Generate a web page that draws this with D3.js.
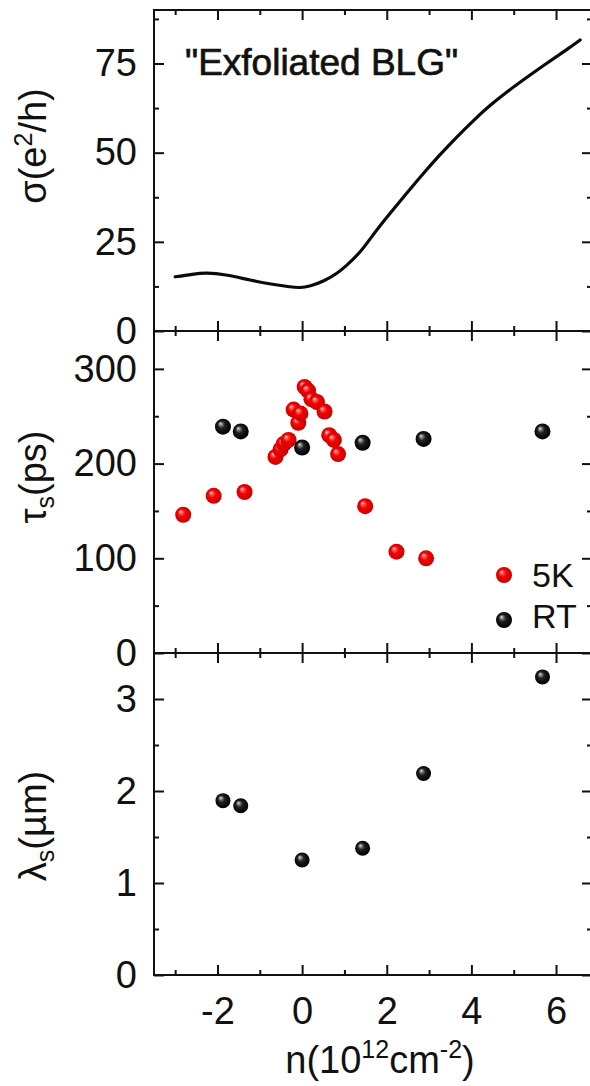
<!DOCTYPE html>
<html>
<head>
<meta charset="utf-8">
<script src="https://cdn.jsdelivr.net/npm/d3@7"></script>
<style>
  html, body { margin: 0; padding: 0; background: #fff; }
  svg { display: block; }
  text { font-family: "Liberation Sans", Arial, sans-serif; fill: #111; }
</style>
</head>
<body>
<svg id="fig" width="590" height="1086"></svg>
<script>
// Conductivity sweep of exfoliated bilayer graphene, sigma in e^2/h
const sigmaN = [-3.0, -2.6, -2.25, -1.8, -1.23, -0.7, -0.3, -0.05, 0.2, 0.5, 0.82, 1.05, 1.37, 1.7, 2.08, 2.47, 2.86, 3.25, 3.65, 4.05, 4.44, 4.84, 5.24, 5.63, 6.02, 6.3, 6.57];
const sigmaVal = [15.2, 15.9, 16.2, 15.7, 14.3, 13.1, 12.4, 12.2, 12.7, 14.0, 16.2, 18.4, 22.2, 27.3, 33.0, 38.6, 44.1, 49.3, 54.3, 59.0, 63.2, 67.0, 70.5, 73.8, 77.0, 79.3, 81.6];

// Spin lifetime at 5 K (ps)
const tau5KN = [-2.81, -2.09, -1.36, -0.63, -0.51, -0.43, -0.32, -0.20, -0.09, -0.04, 0.06, 0.14, 0.22, 0.35, 0.53, 0.64, 0.75, 0.85, 1.49, 2.23, 2.93];
const tau5K  = [146, 166, 170, 207, 215, 221, 225, 257, 243, 253, 281, 277, 268, 265, 255, 230, 225, 210, 155, 107, 100];

// Room temperature: spin lifetime (ps) and spin diffusion length (um)
const rtN     = [-1.87, -1.45, 0.0, 1.43, 2.87, 5.68];
const tauRT   = [239, 234, 217, 222, 226, 234];
const lambdaRT = [1.895, 1.84, 1.25, 1.377, 2.19, 3.24];

// Axis ticks
const xTicks = [-2, 0, 2, 4, 6];
const xMinor = [-3, -1, 1, 3, 5];
const sigmaTicks = [0, 25, 50, 75];
const sigmaMinor = [12.5, 37.5, 62.5, 87.5];
const tauTicks = [0, 100, 200, 300];
const tauMinor = [50, 150, 250];
const lambdaTicks = [0, 1, 2, 3];
const lambdaMinor = [0.5, 1.5, 2.5];

const legendLabels = ["5K", "RT"];

const svg = d3.select("#fig");
const L = 154, R = 592;
const fontSize = 38;

const x = d3.scaleLinear().domain([-3.5, 6.85]).range([L, R]);

const panels = [
  { top: 10,  bottom: 331, domain: [0, 90],  ticks: sigmaTicks, minor: sigmaMinor },
  { top: 331, bottom: 653, domain: [0, 340], ticks: tauTicks,   minor: tauMinor },
  { top: 653, bottom: 975, domain: [0, 3.5], ticks: lambdaTicks, minor: lambdaMinor }
];
panels.forEach(p => { p.y = d3.scaleLinear().domain(p.domain).range([p.bottom, p.top]); });

// Sphere-like shading for the markers
const defs = svg.append("defs");
function ballGradient(id, stops) {
  const g = defs.append("radialGradient").attr("id", id)
    .attr("cx", "50%").attr("cy", "50%").attr("r", "55%")
    .attr("fx", "33%").attr("fy", "30%");
  stops.forEach(s => g.append("stop").attr("offset", s[0]).attr("stop-color", s[1]));
}
ballGradient("ballRed", [["0%", "#ffe4e4"], ["18%", "#ff5a5a"], ["45%", "#f00000"], ["85%", "#d40000"], ["100%", "#9a0000"]]);
ballGradient("ballBlack", [["0%", "#e6e6e6"], ["16%", "#8a8a8a"], ["40%", "#222"], ["80%", "#050505"], ["100%", "#000"]]);

// Axes with inward ticks on all four sides of every panel
function styleAxis(g) {
  g.select(".domain").remove();
  g.selectAll(".tick line").attr("stroke", "#111").attr("stroke-width", 2);
  g.selectAll(".tick text").attr("font-size", fontSize).attr("fill", "#111")
    .attr("font-family", "'Liberation Sans', Arial, sans-serif");
}

panels.forEach((p, i) => {
  const g = svg.append("g");
  const last = i === panels.length - 1;

  // left: labelled major + minor
  g.append("g").attr("transform", `translate(${L},0)`)
    .call(d3.axisLeft(p.y).tickValues(p.ticks).tickSize(-10).tickPadding(17).tickFormat(d3.format("d")))
    .call(styleAxis);
  g.append("g").attr("transform", `translate(${L},0)`)
    .call(d3.axisLeft(p.y).tickValues(p.minor).tickSize(-5).tickFormat(""))
    .call(styleAxis);
  // right
  g.append("g").attr("transform", `translate(${R},0)`)
    .call(d3.axisRight(p.y).tickValues(p.ticks).tickSize(-10).tickFormat(""))
    .call(styleAxis);
  g.append("g").attr("transform", `translate(${R},0)`)
    .call(d3.axisRight(p.y).tickValues(p.minor).tickSize(-5).tickFormat(""))
    .call(styleAxis);
  // top
  g.append("g").attr("transform", `translate(0,${p.top})`)
    .call(d3.axisTop(x).tickValues(xTicks).tickSize(-10).tickFormat(""))
    .call(styleAxis);
  g.append("g").attr("transform", `translate(0,${p.top})`)
    .call(d3.axisTop(x).tickValues(xMinor).tickSize(-5).tickFormat(""))
    .call(styleAxis);
  // bottom
  g.append("g").attr("transform", `translate(0,${p.bottom})`)
    .call(d3.axisBottom(x).tickValues(xTicks).tickSize(-10).tickPadding(22)
      .tickFormat(last ? (d => d < 0 ? "-" + Math.abs(d) : String(d)) : ""))
    .call(styleAxis);
  g.append("g").attr("transform", `translate(0,${p.bottom})`)
    .call(d3.axisBottom(x).tickValues(xMinor).tickSize(-5).tickFormat(""))
    .call(styleAxis);

  // frame
  g.append("rect").attr("x", L).attr("y", p.top)
    .attr("width", R - L).attr("height", p.bottom - p.top)
    .attr("fill", "none").attr("stroke", "#111").attr("stroke-width", 2);
});

// Top panel: conductivity curve
const pTop = panels[0];
const sigmaData = sigmaN.map((n, i) => [n, sigmaVal[i]]);
svg.append("path")
  .datum(sigmaData)
  .attr("fill", "none").attr("stroke", "#0a0a0a").attr("stroke-width", 3.2)
  .attr("stroke-linejoin", "round").attr("stroke-linecap", "round")
  .attr("d", d3.line().x(d => x(d[0])).y(d => pTop.y(d[1])).curve(d3.curveNatural));

svg.append("text").attr("x", 185).attr("y", 75)
  .attr("font-size", 37).attr("stroke", "#111").attr("stroke-width", 0.7)
  .text("\"Exfoliated BLG\"");

// Middle panel: spin lifetimes
const pMid = panels[1];
svg.append("g").selectAll("circle")
  .data(tau5KN.map((n, i) => [n, tau5K[i]]))
  .join("circle")
  .attr("cx", d => x(d[0])).attr("cy", d => pMid.y(d[1])).attr("r", 8)
  .attr("fill", "url(#ballRed)");
svg.append("g").selectAll("circle")
  .data(rtN.map((n, i) => [n, tauRT[i]]))
  .join("circle")
  .attr("cx", d => x(d[0])).attr("cy", d => pMid.y(d[1])).attr("r", 8)
  .attr("fill", "url(#ballBlack)");

// Legend
const legend = svg.append("g");
[["url(#ballRed)", 575, 587], ["url(#ballBlack)", 620, 628]].forEach((it, i) => {
  legend.append("circle").attr("cx", 504).attr("cy", it[1]).attr("r", 8).attr("fill", it[0]);
  legend.append("text").attr("x", 532).attr("y", it[2]).attr("font-size", 34).text(legendLabels[i]);
});

// Bottom panel: spin diffusion length
const pBot = panels[2];
svg.append("g").selectAll("circle")
  .data(rtN.map((n, i) => [n, lambdaRT[i]]))
  .join("circle")
  .attr("cx", d => x(d[0])).attr("cy", d => pBot.y(d[1])).attr("r", 7.5)
  .attr("fill", "url(#ballBlack)");

// Axis titles
function yTitle(cy, build) {
  const t = svg.append("text")
    .attr("transform", `translate(46,${cy}) rotate(-90)`)
    .attr("text-anchor", "middle").attr("font-size", fontSize);
  build(t);
}
yTitle(146, t => {
  t.append("tspan").text("σ(e");
  t.append("tspan").attr("font-size", 25).attr("dy", -14).text("2");
  t.append("tspan").attr("dy", 14).text("/h)");
});
yTitle(477, t => {
  t.append("tspan").text("τ");
  t.append("tspan").attr("font-size", 25).attr("dy", 8).text("s");
  t.append("tspan").attr("dy", -8).text("(ps)");
});
yTitle(826, t => {
  t.append("tspan").text("λ");
  t.append("tspan").attr("font-size", 25).attr("dy", 8).text("s");
  t.append("tspan").attr("dy", -8).text("(µm)");
});

const xt = svg.append("text").attr("x", 380).attr("y", 1073)
  .attr("text-anchor", "middle").attr("font-size", fontSize);
xt.append("tspan").text("n(10");
xt.append("tspan").attr("font-size", 25).attr("dy", -15).text("12");
xt.append("tspan").attr("dy", 15).text("cm");
xt.append("tspan").attr("font-size", 25).attr("dy", -15).text("-2");
xt.append("tspan").attr("dy", 15).text(")");
</script>
</body>
</html>
